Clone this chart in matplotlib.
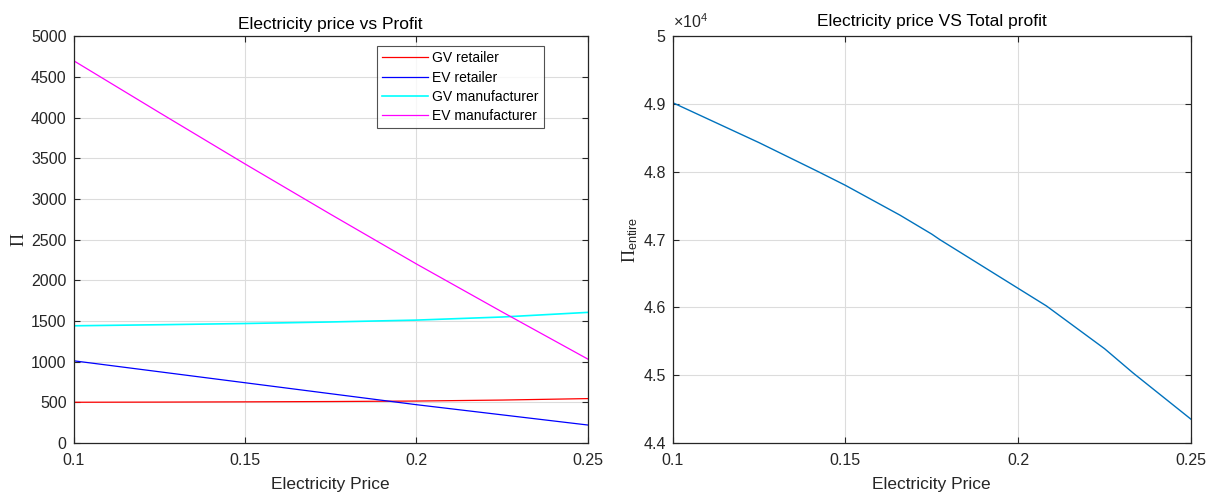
import matplotlib
matplotlib.use("Agg")
import matplotlib.pyplot as plt
import numpy as np

plt.rcParams["font.family"] = ["Liberation Sans", "DejaVu Sans"]
plt.rcParams["mathtext.fontset"] = "custom"
plt.rcParams["mathtext.rm"] = "Liberation Serif"
plt.rcParams["mathtext.sf"] = "Liberation Sans"
plt.rcParams["mathtext.it"] = "Liberation Serif:italic"

# electricity price samples (left panel)
price = [0.10, 0.125, 0.15, 0.175, 0.20, 0.225, 0.25]

# left panel: per-player profit
gv_retailer = [500, 502, 505, 509, 515, 527, 545]
ev_retailer = [1010, 875, 740, 605, 470, 345, 220]
gv_manufacturer = [1440, 1453, 1468, 1487, 1510, 1548, 1605]
ev_manufacturer = [4700, 4062, 3430, 2810, 2200, 1610, 1030]

# right panel: total profit (x 1e4), read at more prices
price_total = [0.10, 0.125, 0.1422, 0.15, 0.1658, 0.175, 0.1773,
               0.20, 0.2082, 0.225, 0.2333, 0.25]
total_profit = [4.902, 4.843, 4.800, 4.780, 4.736, 4.708, 4.700,
                4.628, 4.602, 4.539, 4.503, 4.435]

xticks = [0.1, 0.15, 0.2, 0.25]
xtick_labels = ["0.1", "0.15", "0.2", "0.25"]

fig = plt.figure(figsize=(12.17, 4.96), dpi=100)
ax1 = fig.add_axes([0.0604, 0.107, 0.4227, 0.820])
ax2 = fig.add_axes([0.5527, 0.107, 0.4259, 0.820])

txt = "#262626"
for ax in (ax1, ax2):
    ax.set_facecolor("white")
    ax.grid(True, color="#dcdcdc", linewidth=0.8)
    ax.set_axisbelow(True)
    ax.set_xlim(0.1, 0.25)
    ax.set_xticks(xticks)
    ax.set_xticklabels(xtick_labels)
    ax.tick_params(direction="in", length=4, color=txt, labelcolor=txt,
                   labelsize=11.5, top=True, right=True)
    ax.tick_params(axis="x", pad=7)
    ax.tick_params(axis="y", pad=5)
    for sp in ax.spines.values():
        sp.set_color(txt)
        sp.set_linewidth(0.9)
    ax.set_xlabel("Electricity Price", fontsize=12.5, color=txt, labelpad=7)

ax1.plot(price, gv_retailer, color="red", lw=0.9, label="GV retailer")
ax1.plot(price, ev_retailer, color="blue", lw=0.9, label="EV retailer")
ax1.plot(price, gv_manufacturer, color="cyan", lw=1.2, label="GV manufacturer")
ax1.plot(price, ev_manufacturer, color="magenta", lw=0.9, label="EV manufacturer")
ax1.set_ylim(0, 5000)
ax1.set_yticks(np.arange(0, 5001, 500))
ax1.set_title("Electricity price vs Profit", fontsize=12.5, color="black", pad=5)
ax1.set_ylabel(r"$\Pi$", fontsize=13, color=txt, labelpad=2)
leg = ax1.legend(loc="upper right", bbox_to_anchor=(0.914, 0.975), fontsize=10,
                 frameon=True, fancybox=False, edgecolor="#262626",
                 handlelength=3.3, borderpad=0.35, labelspacing=0.38,
                 handletextpad=0.3, borderaxespad=0)
leg.get_frame().set_linewidth(0.8)

ax2.plot(price_total, total_profit, color="#0072BD", lw=1.0)
ax2.set_ylim(4.4, 5.0)
ax2.set_yticks([4.4, 4.5, 4.6, 4.7, 4.8, 4.9, 5.0])
ax2.set_yticklabels(["4.4", "4.5", "4.6", "4.7", "4.8", "4.9", "5"])
ax2.set_title("Electricity price VS Total profit", fontsize=12.5, color="black", pad=7)
ax2.set_ylabel(r"$\Pi_{\mathsf{entire}}$", fontsize=13, color=txt, labelpad=2)
ax2.text(0.0, 1.012, r"$\mathsf{\times 10^{4}}$", transform=ax2.transAxes,
         fontsize=11.5, color=txt, ha="left", va="bottom")

fig.savefig("out.png", dpi=100)
